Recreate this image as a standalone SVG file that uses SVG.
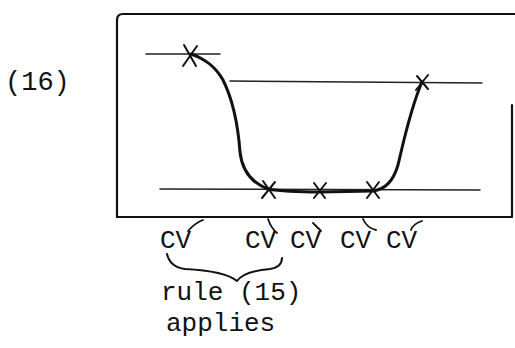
<svg xmlns="http://www.w3.org/2000/svg" width="515" height="348" viewBox="0 0 515 348">
<style>
.t{font-family:"Liberation Mono","DejaVu Sans Mono",monospace;font-size:26px;fill:#111}
.ln{stroke:#222;stroke-width:1.5;fill:none;stroke-linecap:round}
.box{stroke:#111;stroke-width:2.2;fill:none;stroke-linecap:round;stroke-linejoin:round}
.crv{stroke:#111;stroke-width:3;fill:none;stroke-linecap:round;stroke-linejoin:round}
.x{stroke:#111;stroke-width:2;fill:none;stroke-linecap:round}
.mk{stroke:#111;stroke-width:1.8;fill:none;stroke-linecap:round}
</style>
<rect width="515" height="348" fill="#fff"/>
<text class="t" x="5" y="90" style="font-size:27px">(16)</text>
<g id="frame">
<path class="box" d="M117,217 L117,20 Q117,14 123,14 L515,14"/>
<path class="box" d="M117,217 L512,217 L512,105"/>
</g>
<g id="levels">
<path class="ln" d="M146,54 L220,54"/>
<path class="ln" d="M230,81 L482,83"/>
<path class="ln" d="M160,189 L480,190"/>
</g>
<g id="contour">
<path class="crv" d="M191,54 C205,59 215,66 223,80 C232,98 238,125 240,152 C242,170 252,183 268,189 C285,192 300,192 320,192 L373,191 C385,189 393,182 398,165 C404,140 410,110 422,82"/>
</g>
<g id="marks">
<path class="x" d="M184,45 L196,66 M183,66 L197,46"/>
<path class="x" d="M263,181 L275,198 M262,198 L275,182"/>
<path class="x" d="M314,183 L325,198 M314,198 L326,183"/>
<path class="x" d="M367,182 L379,198 M367,198 L379,182"/>
<path class="x" d="M417,76 L428,89 M416,90 L428,75"/>
</g>
<g id="stress">
<path class="mk" d="M188,231 Q195,223 203,220"/>
<path class="mk" d="M268,219 Q271,228 277,233"/>
<path class="mk" d="M313,223 L321,231"/>
<path class="mk" d="M363,219 Q367,228 376,230"/>
<path class="mk" d="M411,230 Q413,224 422,221"/>
</g>
<g id="labels">
<text class="t" x="160" y="248">CV</text>
<text class="t" x="245" y="248">CV</text>
<text class="t" x="290" y="248">CV</text>
<text class="t" x="340" y="248">CV</text>
<text class="t" x="386" y="248">CV</text>
<path class="crv" style="stroke-width:2" d="M167,254 Q170,267 185,269 Q225,271 237,281 Q244,271 270,269 Q282,267 282,258"/>
<text class="t" x="161" y="300">rule (15)</text>
<text class="t" x="166" y="331">applies</text>
</g>
</svg>
